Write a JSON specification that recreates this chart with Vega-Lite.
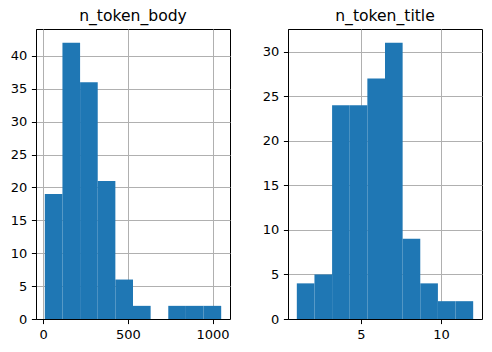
{
  "$schema": "https://vega.github.io/schema/vega-lite/v6.json",
  "padding": {"left": 9, "top": 8, "right": 10, "bottom": 5},
  "spacing": 58,
  "bounds": "flush",
  "config": {
    "font": "DejaVu Sans",
    "view": {"stroke": "black", "strokeWidth": 1},
    "axis": {
      "grid": true, "gridColor": "#b0b0b0", "gridWidth": 1, "zindex": 1,
      "domainColor": "black", "domainWidth": 1, "tickColor": "black", "tickWidth": 1, "tickSize": 4.6,
      "labelFontSize": 13, "labelColor": "black", "labelPadding": 4.6, "labelFont": "DejaVu Sans", "format": "d"
    },
    "title": {"fontSize": 15.6, "fontWeight": "normal", "color": "black", "offset": 0, "baseline": "alphabetic", "font": "DejaVu Sans"}
  },
  "hconcat": [
    {
      "title": "n_token_body",
      "width": 194, "height": 290,
      "data": {"values": [
        {"start": 10, "end": 114.1, "count": 19},
        {"start": 114.1, "end": 218.2, "count": 42},
        {"start": 218.2, "end": 322.3, "count": 36},
        {"start": 322.3, "end": 426.4, "count": 21},
        {"start": 426.4, "end": 530.5, "count": 6},
        {"start": 530.5, "end": 634.6, "count": 2},
        {"start": 634.6, "end": 738.7, "count": 0},
        {"start": 738.7, "end": 842.8, "count": 2},
        {"start": 842.8, "end": 946.9, "count": 2},
        {"start": 946.9, "end": 1051, "count": 2}
      ]},
      "mark": {"type": "bar", "color": "#1f77b4"},
      "encoding": {
        "x": {"field": "start", "type": "quantitative", "title": null,
              "scale": {"domain": [-42, 1103], "nice": false, "zero": false},
              "axis": {"values": [0, 500, 1000]}},
        "x2": {"field": "end"},
        "y": {"field": "count", "type": "quantitative", "title": null,
              "scale": {"domain": [0, 44.1], "nice": false},
              "axis": {"values": [0, 5, 10, 15, 20, 25, 30, 35, 40]}},
        "y2": {"datum": 0}
      }
    },
    {
      "title": "n_token_title",
      "width": 194, "height": 290,
      "data": {"values": [
        {"start": 1, "end": 2.1, "count": 4},
        {"start": 2.1, "end": 3.2, "count": 5},
        {"start": 3.2, "end": 4.3, "count": 24},
        {"start": 4.3, "end": 5.4, "count": 24},
        {"start": 5.4, "end": 6.5, "count": 27},
        {"start": 6.5, "end": 7.6, "count": 31},
        {"start": 7.6, "end": 8.7, "count": 9},
        {"start": 8.7, "end": 9.8, "count": 4},
        {"start": 9.8, "end": 10.9, "count": 2},
        {"start": 10.9, "end": 12, "count": 2}
      ]},
      "mark": {"type": "bar", "color": "#1f77b4"},
      "encoding": {
        "x": {"field": "start", "type": "quantitative", "title": null,
              "scale": {"domain": [0.45, 12.55], "nice": false, "zero": false},
              "axis": {"values": [5, 10]}},
        "x2": {"field": "end"},
        "y": {"field": "count", "type": "quantitative", "title": null,
              "scale": {"domain": [0, 32.55], "nice": false},
              "axis": {"values": [0, 5, 10, 15, 20, 25, 30]}},
        "y2": {"datum": 0}
      }
    }
  ]
}
